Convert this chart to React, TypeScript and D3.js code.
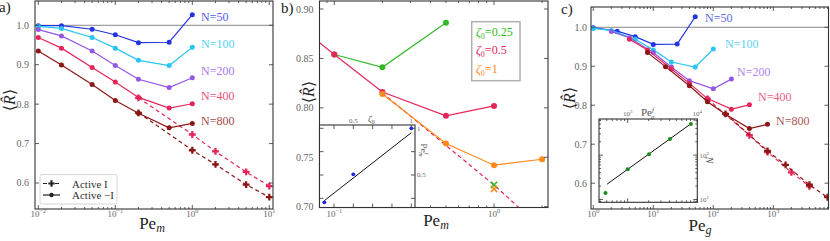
import * as d3 from "d3";

// ---- data ----
const PE_M = [0.01, 0.02, 0.05, 0.1, 0.2, 0.5, 1];
const N_LIST = [50, 100, 200, 400, 800];
const R_N50 = [0.999, 0.999, 0.99, 0.976, 0.956, 0.957, 1.027];
const R_N100 = [0.997, 0.992, 0.969, 0.942, 0.911, 0.898, 0.944];
const R_N200 = [0.989, 0.973, 0.935, 0.898, 0.863, 0.842, 0.867];
const R_N400 = [0.969, 0.942, 0.893, 0.856, 0.817, 0.79, 0.801];
const R_N800 = [0.935, 0.899, 0.85, 0.809, 0.777, 0.74, 0.751];
const N_COLORS = ["#2335e3", "#27c6f2", "#9457e3", "#e5255a", "#8c1616"];

const PE_M_ACTIVE = [0.2, 1, 2, 5, 10];
const R_ACTIVE_N400 = [0.816, 0.723, 0.68, 0.628, 0.592];
const R_ACTIVE_N800 = [0.778, 0.683, 0.647, 0.596, 0.564];

// panel b
const ZETA_LABELS = ["0.25", "0.5", "1"];
const ZETA_COLORS = ["#33b82a", "#e5255a", "#ff8a1c"];
const PE_B_Z025 = [0.1, 0.2, 0.5];
const R_B_Z025 = [0.854, 0.841, 0.886];
const PE_B_Z05 = [0.07, 0.1, 0.2, 0.5, 1];
const R_B_Z05 = [0.874, 0.854, 0.816, 0.792, 0.802];
const PE_B_Z1 = [0.2, 0.5, 1, 2];
const R_B_Z1 = [0.814, 0.764, 0.742, 0.748];
const PE_B_GUIDE = [0.2, 1, 3];
const R_B_GUIDE = [0.815, 0.722, 0.652];
const PE_B_CROSS = [1, 1];
const R_B_CROSS = [0.722, 0.718];
const CROSS_COLORS = ["#33b82a", "#ff8a1c"];

// inset b
const ZETA0 = [0.25, 0.5, 1];
const PEF_M = [0.207, 0.507, 1.0];
const ZETA_FIT = [0.25, 1];
const PEF_FIT = [0.225, 0.953];

// inset c
const PEF_G = [480, 1000, 2020, 4050, 8100];
const N_INSET = [14, 48, 104, 230, 500];
const PEF_G_FIT = [508, 7940];
const N_FIT = [22.3, 498];

const FONT = "'Liberation Serif', 'DejaVu Serif', serif";
const AXIS = "#333";
const TICK_TXT = "#666";

type P = [number, number];
const zip = (xs: number[], ys: number[]): P[] => xs.map((x, i) => [x, ys[i]]);

function logTicks(domain: number[]) {
  const [a, b] = domain;
  const major: number[] = [];
  const minor: number[] = [];
  for (let e = Math.floor(Math.log10(a)); e <= Math.ceil(Math.log10(b)); e++) {
    for (let k = 1; k < 10; k++) {
      const v = k * Math.pow(10, e);
      if (v < a || v > b) continue;
      (k === 1 ? major : minor).push(v);
    }
  }
  return { major, minor };
}

function Frame({ x, y, xMajor, xMinor, yMajor, yMinor, fill }: any) {
  const [x0, x1] = x.range();
  const [y1, y0] = y.range();
  const tk = [] as any[];
  const add = (xs: number[], len: number, key: string) =>
    xs.forEach((v, i) => {
      const px = x(v);
      tk.push(<line key={key + i + "b"} x1={px} x2={px} y1={y1} y2={y1 - len} />);
      tk.push(<line key={key + i + "t"} x1={px} x2={px} y1={y0} y2={y0 + len} />);
    });
  const addY = (ys: number[], len: number, key: string) =>
    ys.forEach((v, i) => {
      const py = y(v);
      tk.push(<line key={key + i + "l"} x1={x0} x2={x0 + len} y1={py} y2={py} />);
      tk.push(<line key={key + i + "r"} x1={x1} x2={x1 - len} y1={py} y2={py} />);
    });
  add(xMajor, 4, "xM");
  add(xMinor || [], 2, "xm");
  addY(yMajor, 4, "yM");
  addY(yMinor || [], 2, "ym");
  return (
    <g>
      {fill && <rect x={x0} y={y0} width={x1 - x0} height={y1 - y0} fill="#fff" />}
      <g stroke={AXIS} strokeWidth={0.8}>{tk}</g>
      <rect x={x0} y={y0} width={x1 - x0} height={y1 - y0} fill="none" stroke={AXIS} strokeWidth={1.1} />
    </g>
  );
}

function Pow({ x, y, e, size = 9, anchor = "middle" }: any) {
  return (
    <text x={x} y={y} fontSize={size} textAnchor={anchor} fill={TICK_TXT} fontFamily={FONT}>
      10<tspan dy={-size * 0.4} fontSize={size * 0.7}>{e < 0 ? "−" + -e : e}</tspan>
    </text>
  );
}

function YLabel({ x, y }: any) {
  return (
    <text transform={`translate(${x},${y}) rotate(-90)`} textAnchor="middle" fontSize={16} fontFamily={FONT} fill="#222">
      ⟨<tspan fontStyle="italic">R̂</tspan>⟩
    </text>
  );
}

function XLabel({ x, y, sub }: any) {
  return (
    <text x={x} y={y} textAnchor="middle" fontSize={17} fontFamily={FONT} fill="#222">
      Pe<tspan dy={3} fontSize={12} fontStyle="italic">{sub}</tspan>
    </text>
  );
}

function Series({ pts, x, y, color, r, dashed, marker, width = 1.2 }: any) {
  const line = d3.line<P>().x((d) => x(d[0])).y((d) => y(d[1]));
  return (
    <g>
      <path d={line(pts) || ""} fill="none" stroke={color} strokeWidth={width} strokeDasharray={dashed ? "4,3" : undefined} />
      {marker !== "none" &&
        pts.map((d: P, i: number) =>
          marker === "plus" ? (
            <path key={i} d={d3.symbol(d3.symbolCross, 26)() || ""} transform={`translate(${x(d[0])},${y(d[1])})`} fill={color} />
          ) : (
            <circle key={i} cx={x(d[0])} cy={y(d[1])} r={r} fill={color} />
          )
        )}
    </g>
  );
}

const R_ALL = [R_N50, R_N100, R_N200, R_N400, R_N800];

function PanelA() {
  const x = d3.scaleLog().domain([Math.pow(10, -2.043), Math.pow(10, 1.048)]).range([35, 273]);
  const y = d3.scaleLinear().domain([0.534, 1.0616]).range([209, 1]);
  const { major, minor } = logTicks(x.domain());
  const yt = [0.6, 0.7, 0.8, 0.9, 1.0];
  const labelY = [20.5, 47.5, 74.5, 99.5, 124.5];
  return (
    <g>
      <defs>
        <clipPath id="clipA">
          <rect x={35} y={1} width={238} height={208} />
        </clipPath>
      </defs>
      <g clipPath="url(#clipA)">
        <line x1={35} x2={273} y1={y(1)} y2={y(1)} stroke="#888" strokeWidth={1} />
        <Series pts={zip(PE_M_ACTIVE, R_ACTIVE_N400)} x={x} y={y} color={N_COLORS[3]} dashed marker="plus" />
        <Series pts={zip(PE_M_ACTIVE, R_ACTIVE_N800)} x={x} y={y} color={N_COLORS[4]} dashed marker="plus" />
        {N_LIST.map((n, i) => (
          <Series key={n} pts={zip(PE_M, R_ALL[i])} x={x} y={y} color={N_COLORS[i]} r={2.5} />
        ))}
      </g>
      <Frame x={x} y={y} xMajor={major} xMinor={minor} yMajor={yt} />
      {yt.map((v) => (
        <text key={v} x={29} y={y(v) + 3.5} textAnchor="end" fontSize={10} fill={TICK_TXT} fontFamily={FONT}>
          {v.toFixed(1)}
        </text>
      ))}
      {major.map((v) => (
        <Pow key={v} x={x(v)} y={217} e={Math.round(Math.log10(v))} />
      ))}
      {N_LIST.map((n, i) => (
        <text key={n} x={201} y={labelY[i]} fontSize={12} fill={N_COLORS[i]} opacity={0.8} fontFamily={FONT}>
          N={n}
        </text>
      ))}
      <g>
        <rect x={40} y={174.5} width={77} height={29.5} rx={2} fill="#fff" stroke="#ccc" strokeWidth={0.8} />
        <line x1={43} x2={60} y1={183.5} y2={183.5} stroke="#222" strokeWidth={1.2} strokeDasharray="4,2" />
        <path d={d3.symbol(d3.symbolCross, 22)() || ""} transform="translate(51.5,183.5)" fill="#222" />
        <text x={72} y={187.5} fontSize={11} fontFamily={FONT} fill="#333">Active I</text>
        <line x1={43} x2={60} y1={195} y2={195} stroke="#222" strokeWidth={1.2} />
        <circle cx={51.5} cy={195} r={2.2} fill="#222" />
        <text x={72} y={199} fontSize={11} fontFamily={FONT} fill="#333">Active −I</text>
      </g>
      <YLabel x={15} y={100} />
      <XLabel x={152} y={229} sub="m" />
      <text x={-1} y={12} fontSize={15} fontFamily={FONT} fill="#222">a)</text>
    </g>
  );
}

function PanelB() {
  const x = d3.scaleLog().domain([Math.pow(10, -1.0927), Math.pow(10, 0.338)]).range([319.5, 548]);
  const y = d3.scaleLinear().domain([0.6992, 0.9081]).range([207.5, 1]);
  const { major, minor } = logTicks(x.domain());
  const yt = [0.7, 0.75, 0.8, 0.85, 0.9];
  const zeta = [zip(PE_B_Z025, R_B_Z025), zip(PE_B_Z05, R_B_Z05), zip(PE_B_Z1, R_B_Z1)];
  // inset
  const ix = d3.scaleLinear().domain([0.2086, 1.032]).range([319.5, 415]);
  const iy = d3.scaleLinear().domain([0.152, 1.0353]).range([207.5, 125]);
  const ixt = d3.range(2, 7).map((i) => i / 6);
  const iyt = [0.25, 0.5, 0.75, 1];
  const fit = d3.line<P>().x((d) => ix(d[0])).y((d) => iy(d[1]));
  return (
    <g>
      <defs>
        <clipPath id="clipB">
          <rect x={319.5} y={1} width={228.5} height={206.5} />
        </clipPath>
      </defs>
      <g clipPath="url(#clipB)">
        <Series pts={zip(PE_B_GUIDE, R_B_GUIDE)} x={x} y={y} color={ZETA_COLORS[1]} dashed marker="none" />
        {zeta.map((pts, i) => (
          <Series key={i} pts={pts} x={x} y={y} color={ZETA_COLORS[i]} r={3} />
        ))}
        {zip(PE_B_CROSS, R_B_CROSS).map((d, i) => (
          <path key={i} d={d3.symbol(d3.symbolX, 28)() || ""} transform={`translate(${x(d[0])},${y(d[1])})`}
            fill="none" stroke={CROSS_COLORS[i]} strokeWidth={1.6} />
        ))}
      </g>
      <Frame x={x} y={y} xMajor={major} xMinor={minor} yMajor={yt} />
      {yt.map((v) => (
        <text key={v} x={313.5} y={y(v) + 3.5} textAnchor="end" fontSize={10} fill={TICK_TXT} fontFamily={FONT}>
          {v.toFixed(2)}
        </text>
      ))}
      {major.map((v) => (
        <Pow key={v} x={x(v)} y={217} e={Math.round(Math.log10(v))} />
      ))}
      <rect x={471.7} y={21.7} width={48.3} height={59} fill="#fff" stroke="#b0b0b0" strokeWidth={1.5} />
      {ZETA_LABELS.map((z, i) => (
        <text key={z} x={476} y={35.5 + i * 18.8} fontSize={12} fontFamily={FONT} fill={ZETA_COLORS[i]}>
          <tspan fontStyle="italic">ζ</tspan>
          <tspan dy={3} fontSize={8}>0</tspan>
          <tspan dy={-3}>={z}</tspan>
        </text>
      ))}
      {/* inset */}
      <Frame x={ix} y={iy} xMajor={ixt} yMajor={iyt} fill />
      <path d={fit(zip(ZETA_FIT, PEF_FIT)) || ""} stroke="#111" strokeWidth={1} fill="none" />
      {zip(ZETA0, PEF_M).map((d, i) => (
        <circle key={i} cx={ix(d[0])} cy={iy(d[1])} r={1.9} fill="#1a22ee" />
      ))}
      {[0.5, 1].map((v) => (
        <text key={v} x={ix(v)} y={123} textAnchor="middle" fontSize={7} fill={TICK_TXT} fontFamily={FONT}>{v}</text>
      ))}
      {[0.5, 1].map((v) => (
        <text key={v} x={417} y={iy(v) + 2.5} fontSize={7} fill={TICK_TXT} fontFamily={FONT}>{v}</text>
      ))}
      <text x={368} y={122} fontSize={9} fontStyle="italic" fill="#555" fontFamily={FONT}>
        ζ<tspan dy={2} fontSize={6} fontStyle="normal">0</tspan>
      </text>
      <text transform="translate(421,150) rotate(90)" textAnchor="middle" fontSize={9} fill="#555" fontFamily={FONT}>
        Pe<tspan dy={-3} fontSize={6} fontStyle="italic">f</tspan><tspan dy={5} dx={-2} fontSize={6} fontStyle="italic">m</tspan>
      </text>
      <YLabel x={314} y={92} />
      <XLabel x={436} y={226} sub="m" />
      <text x={281} y={13} fontSize={15} fontFamily={FONT} fill="#222">b)</text>
    </g>
  );
}

function PanelC() {
  const x = d3.scaleLog().domain([Math.pow(10, -0.038), Math.pow(10, 3.92)]).range([591, 828.5]);
  const y = d3.scaleLinear().domain([0.5338, 1.052]).range([209, 7]);
  const { major, minor } = logTicks(x.domain());
  const yt = [0.6, 0.7, 0.8, 0.9, 1.0];
  const labelX = [705, 725, 737, 758, 776];
  const labelY = [21.5, 48, 76, 101, 125];
  // inset
  const ix = d3.scaleLog().domain([Math.pow(10, 2.5876), Math.pow(10, 4.0)]).range([599, 697.3]);
  const iy = d3.scaleLog().domain([Math.pow(10, 0.937), Math.pow(10, 2.8135)]).range([202.3, 119]);
  const ixt = logTicks(ix.domain());
  const iyt = logTicks(iy.domain());
  const fit = d3.line<P>().x((d) => ix(d[0])).y((d) => iy(d[1]));
  const peG = (i: number) => PE_M.map((p) => p * N_LIST[i]);
  const peGA = (n: number) => PE_M_ACTIVE.map((p) => p * n);
  return (
    <g>
      <defs>
        <clipPath id="clipC">
          <rect x={591} y={7} width={237.5} height={202} />
        </clipPath>
      </defs>
      <g clipPath="url(#clipC)">
        <line x1={591} x2={828.5} y1={y(1)} y2={y(1)} stroke="#888" strokeWidth={1} />
        <Series pts={zip(peGA(400), R_ACTIVE_N400)} x={x} y={y} color={N_COLORS[3]} dashed marker="plus" />
        <Series pts={zip(peGA(800), R_ACTIVE_N800)} x={x} y={y} color={N_COLORS[4]} dashed marker="plus" />
        {N_LIST.map((n, i) => (
          <Series key={n} pts={zip(peG(i), R_ALL[i])} x={x} y={y} color={N_COLORS[i]} r={2.5} />
        ))}
      </g>
      <Frame x={x} y={y} xMajor={major} xMinor={minor} yMajor={yt} />
      {yt.map((v) => (
        <text key={v} x={587} y={y(v) + 3.5} textAnchor="end" fontSize={10} fill={TICK_TXT} fontFamily={FONT}>
          {v.toFixed(1)}
        </text>
      ))}
      {major.map((v) => (
        <Pow key={v} x={x(v)} y={217} e={Math.round(Math.log10(v))} />
      ))}
      {N_LIST.map((n, i) => (
        <text key={n} x={labelX[i]} y={labelY[i]} fontSize={12} fill={N_COLORS[i]} opacity={0.75} fontFamily={FONT}>
          N={n}
        </text>
      ))}
      {/* inset */}
      <Frame x={ix} y={iy} xMajor={ixt.major} xMinor={ixt.minor} yMajor={iyt.major} yMinor={iyt.minor} fill />
      <path d={fit(zip(PEF_G_FIT, N_FIT)) || ""} stroke="#111" strokeWidth={1} fill="none" />
      {zip(PEF_G, N_INSET).map((d, i) => (
        <circle key={i} cx={ix(d[0])} cy={iy(d[1])} r={2} fill="#1a8a1a" />
      ))}
      {ixt.major.map((v) => (
        <Pow key={v} x={ix(v)} y={116} e={Math.round(Math.log10(v))} size={7} />
      ))}
      {iyt.major.map((v) => (
        <Pow key={v} x={699.5} y={iy(v) + 2.5} e={Math.round(Math.log10(v))} size={7} anchor="start" />
      ))}
      <text x={641} y={116} fontSize={11} fill="#555" fontFamily={FONT}>
        Pe<tspan dy={-4} fontSize={7} fontStyle="italic">f</tspan><tspan dy={7} dx={-3} fontSize={7} fontStyle="italic">g</tspan>
      </text>
      <text transform="translate(706,160) rotate(90)" textAnchor="middle" fontSize={10} fontStyle="italic" fill="#555" fontFamily={FONT}>
        N
      </text>
      <YLabel x={575} y={98} />
      <XLabel x={700} y={230.5} sub="g" />
      <text x={561} y={14} fontSize={15} fontFamily={FONT} fill="#222">c)</text>
    </g>
  );
}

export default function App() {
  return (
    <svg width={830} height={241} style={{ position: "absolute", left: 0, top: 0, background: "#fff" }}>
      <PanelA />
      <PanelB />
      <PanelC />
    </svg>
  );
}
